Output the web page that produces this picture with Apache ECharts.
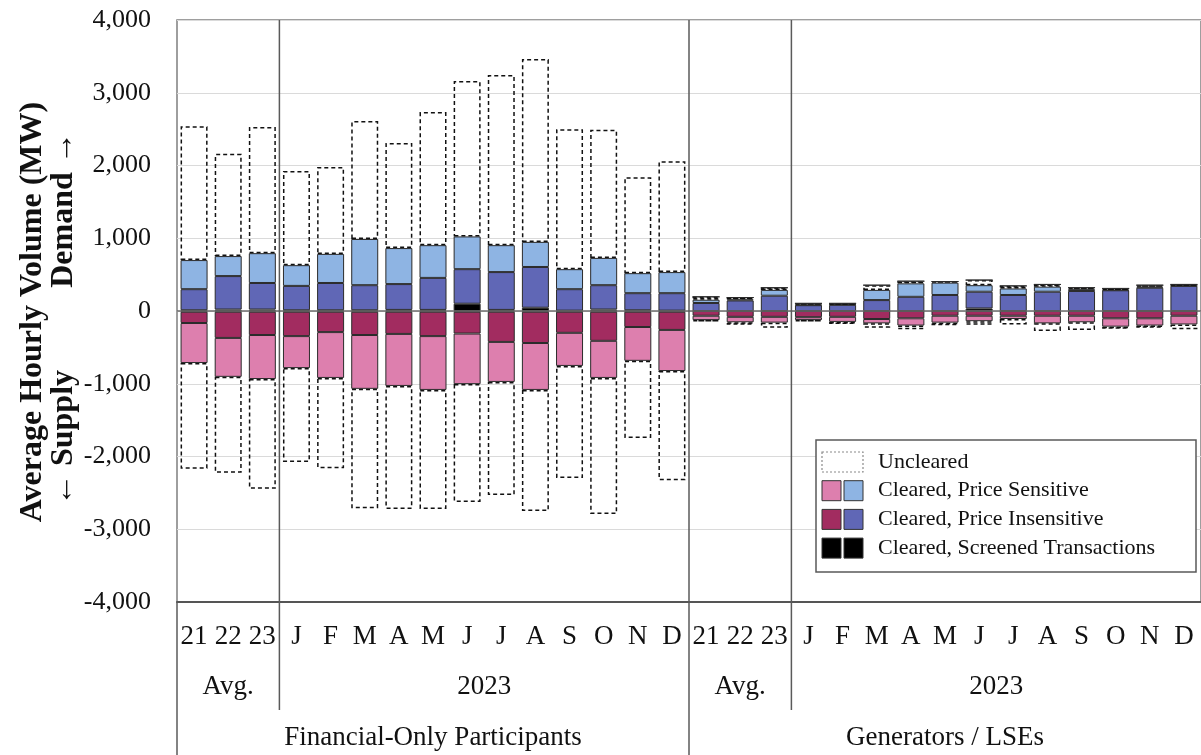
<!DOCTYPE html>
<html>
<head>
<meta charset="utf-8">
<script src="https://cdn.jsdelivr.net/npm/echarts@6/dist/echarts.min.js"></script>
<style>
html,body{margin:0;padding:0;background:#fff;}
#c{width:1201px;height:755px;}
</style>
</head>
<body>
<div id="c"></div>
<script>
const categories = ['21','22','23','J','F','M','A','M','J','J','A','S','O','N','D',
                    '21','22','23','J','F','M','A','M','J','J','A','S','O','N','D'];
const yTicks = [-4000,-3000,-2000,-1000,0,1000,2000,3000,4000];
const groupRow1 = [{label:'Avg.', from:0, to:3},{label:'2023', from:3, to:15},{label:'Avg.', from:15, to:18},{label:'2023', from:18, to:30}];
const groupRow2 = [{label:'Financial-Only Participants', from:0, to:15},{label:'Generators / LSEs', from:15, to:30}];

// Demand (positive) segments, MW
const demandScreened    = [10,20,20,10,10,10,15,15,100,15,45,5,20,10,5,  0,0,0,0,0,0,0,0,35,0,0,0,0,0,0];
const demandInsensitive = [290,460,365,335,375,345,355,440,475,520,560,295,335,235,240,  110,145,210,80,85,150,195,220,230,220,265,275,285,320,345];
const demandSensitive   = [400,275,410,285,400,635,495,450,450,370,345,275,375,275,290,  45,15,80,5,5,140,185,170,90,90,70,25,5,15,5];
const demandUncleared   = [1840,1405,1735,1295,1195,1620,1445,1830,2135,2340,2515,1925,1760,1320,1525,  40,25,30,20,15,65,30,15,70,35,30,20,20,20,15];
// Supply (negative) segments, MW
const supplyScreened    = [-10,-10,-10,-10,-10,-10,-10,-10,-10,-10,-10,-10,-10,-10,-10,  0,0,0,0,0,0,0,0,0,0,0,0,0,0,0];
const supplyInsensitive = [-155,-360,-320,-335,-280,-320,-305,-335,-300,-415,-430,-290,-400,-210,-250,  -65,-80,-80,-85,-80,-110,-100,-65,-65,-65,-65,-65,-100,-100,-65];
const supplySensitive   = [-550,-535,-605,-440,-630,-740,-715,-740,-695,-550,-645,-455,-510,-465,-565,  -60,-75,-80,-40,-70,-60,-100,-95,-75,-45,-105,-90,-115,-100,-120];
const supplyUncleared   = [-1455,-1320,-1510,-1290,-1240,-1640,-1690,-1635,-1620,-1555,-1665,-1540,-1870,-1060,-1500,  -20,-35,-70,-20,-30,-60,-50,-35,-50,-75,-105,-105,-30,-30,-65];

const C = {
  lightBlue:'#8eb4e3', darkBlue:'#6067b6', pink:'#dd7fae', magenta:'#a22c60', black:'#000000'
};
const SERIF = "'Liberation Serif','Times New Roman',serif";

function solid(name, data, color){
  return {name, type:'bar', stack:'v', data, barWidth:27,
    itemStyle:{color, borderColor:'#2b2b2b', borderWidth:1}, emphasis:{disabled:true}};
}
function dashed(name, data){
  return {name, type:'bar', stack:'v', data, barWidth:27,
    itemStyle:{color:'rgba(255,255,255,0)', borderColor:'#111', borderWidth:1.5, borderType:[4,3]},
    emphasis:{disabled:true}};
}

const chart = echarts.init(document.getElementById('c'), null, {renderer:'canvas'});
const series = [
  solid('Demand Screened', demandScreened, C.black),
  solid('Demand Insensitive', demandInsensitive, C.darkBlue),
  solid('Demand Sensitive', demandSensitive, C.lightBlue),
  dashed('Demand Uncleared', demandUncleared),
  solid('Supply Screened', supplyScreened, C.black),
  solid('Supply Insensitive', supplyInsensitive, C.magenta),
  solid('Supply Sensitive', supplySensitive, C.pink),
  dashed('Supply Uncleared', supplyUncleared)
];
series[0].markLine = {silent:true, symbol:'none', label:{show:false},
  lineStyle:{color:'#6b6b6b', width:1.5, type:'solid'}, data:[{yAxis:0}], z:10};

chart.setOption({
  animation:false,
  backgroundColor:'#ffffff',
  grid:{left:177, right:-2, top:20, bottom:153, show:true, borderColor:'#7f7f7f', borderWidth:1.5, backgroundColor:'rgba(0,0,0,0)'},
  xAxis:{type:'category', data:categories, boundaryGap:true,
    axisLine:{show:true, onZero:false, lineStyle:{color:'#555', width:2}},
    axisTick:{show:false},
    axisLabel:{interval:0, fontFamily:SERIF, fontSize:27, color:'#111', margin:21},
    splitLine:{show:false}},
  yAxis:{type:'value', min:yTicks[0], max:yTicks[yTicks.length-1], interval:1000,
    axisLine:{show:false}, axisTick:{show:false},
    splitLine:{show:true, lineStyle:{color:'#dadada', width:1}},
    axisLabel:{fontFamily:SERIF, fontSize:26, color:'#111', margin:26,
      formatter:v=>Number(v).toLocaleString('en-US')}},
  series
});

// Separators, group labels, axis title, legend
const p0 = chart.convertToPixel({xAxisIndex:0}, 0);
const p1 = chart.convertToPixel({xAxisIndex:0}, 1);
const band = p1 - p0;
const bx = i => p0 - band/2 + i*band;
const yTop = chart.convertToPixel({yAxisIndex:0}, 4000);
const yBot = chart.convertToPixel({yAxisIndex:0}, -4000);
const lineStyle = {stroke:'#5a5a5a', lineWidth:1.5};
const g = [];
[[3,710],[15,755],[18,710]].forEach(([i,end])=>{
  g.push({type:'line', shape:{x1:bx(i), y1:yTop, x2:bx(i), y2:end}, style:lineStyle, z:20});
});
g.push({type:'line', shape:{x1:bx(0), y1:yBot, x2:bx(0), y2:755}, style:lineStyle, z:20});
groupRow1.forEach(r=>{
  g.push({type:'text', x:(bx(r.from)+bx(r.to))/2, y:687, style:{text:r.label, font:'27px '+SERIF, fill:'#111', textAlign:'center', textVerticalAlign:'middle'}});
});
groupRow2.forEach(r=>{
  g.push({type:'text', x:(bx(r.from)+bx(r.to))/2, y:738, style:{text:r.label, font:'27px '+SERIF, fill:'#111', textAlign:'center', textVerticalAlign:'middle'}});
});
g.push({type:'text', x:33, y:312, rotation:Math.PI/2, style:{text:'Average Hourly Volume (MW)', font:'bold 32px '+SERIF, fill:'#111', textAlign:'center', textVerticalAlign:'middle'}});
g.push({type:'text', x:64, y:210, rotation:Math.PI/2, style:{text:'Demand \u2192', font:'bold 32px '+SERIF, fill:'#111', textAlign:'center', textVerticalAlign:'middle'}});
g.push({type:'text', x:64, y:438, rotation:Math.PI/2, style:{text:'\u2190 Supply', font:'bold 32px '+SERIF, fill:'#111', textAlign:'center', textVerticalAlign:'middle'}});

// legend
const LX = 816, LY = 440;
g.push({type:'rect', shape:{x:LX, y:LY, width:380, height:132}, style:{fill:'#fff', stroke:'#595959', lineWidth:1.5}, z:30});
const rows = [
  {text:'Uncleared', a:null, b:null},
  {text:'Cleared, Price Sensitive', a:C.pink, b:C.lightBlue},
  {text:'Cleared, Price Insensitive', a:C.magenta, b:C.darkBlue},
  {text:'Cleared, Screened Transactions', a:C.black, b:C.black}
];
rows.forEach((r,k)=>{
  const cy = 462 + k*28.7;
  if(r.a===null){
    g.push({type:'rect', shape:{x:822, y:cy-10, width:41, height:20}, style:{fill:'none', stroke:'#8a8a8a', lineWidth:1.2, lineDash:[2,2]}, z:31});
  } else {
    g.push({type:'rect', shape:{x:822, y:cy-10, width:19, height:20}, style:{fill:r.a, stroke:'#333', lineWidth:1}, z:31});
    g.push({type:'rect', shape:{x:844, y:cy-10, width:19, height:20}, style:{fill:r.b, stroke:'#333', lineWidth:1}, z:31});
  }
  g.push({type:'text', x:878, y:cy, style:{text:r.text, font:'22px '+SERIF, fill:'#111', textAlign:'left', textVerticalAlign:'middle'}, z:31});
});
chart.setOption({graphic:g});
</script>
</body>
</html>
